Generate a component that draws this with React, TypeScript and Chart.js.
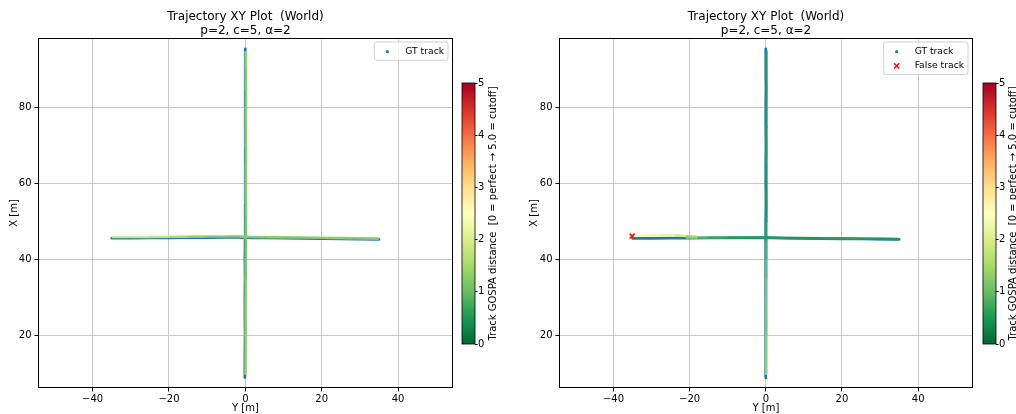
import React, { useEffect, useRef } from 'react';
import { Chart, registerables } from 'chart.js';

Chart.register(...registerables);

const FONT = '"DejaVu Sans", "Liberation Sans", sans-serif';

// ---------------- text ----------------
const TITLE_LINES = ['Trajectory XY Plot  (World)', 'p=2, c=5, \u03b1=2'];
const X_AXIS_LABEL = 'Y [m]';
const Y_AXIS_LABEL = 'X [m]';
const CB_LABEL = 'Track GOSPA distance  [0 = perfect \u2192 5.0 = cutoff]';
const LEGEND_LEFT = ['GT track'];
const LEGEND_RIGHT = ['GT track', 'False track'];

// ---------------- axes ----------------
const X_MIN = -54.3;
const X_MAX = 54.4;
const Y_MIN = 6.05;
const Y_MAX = 98.2;
const AXIS_STEP = 20;
const CB_MIN = 0;
const CB_MAX = 5;
const CB_STEP = 1;

// colormap RdYlGn_r
const CMAP = ['#006837', '#1a9850', '#66bd63', '#a6d96a', '#d9ef8b', '#ffffbf', '#fee08b', '#fdae61', '#f46d43', '#d73027', '#a50026'];
const GT_COLOR = '#1f77b4';
const FALSE_COLOR = '#ff0000';

// ---------------- left panel data (world Y = horizontal, world X = vertical) ----------------
const L_GT_H_WY = [-35, -30, -25, -20, -15, -10, -5, -2, 2, 5, 10, 15, 20, 25, 30, 35];
const L_GT_H_WX = [45.5, 45.52, 45.55, 45.58, 45.62, 45.66, 45.7, 45.72, 45.58, 45.55, 45.5, 45.44, 45.38, 45.32, 45.25, 45.18];
const L_EST_H_WY = [-35, -30, -25, -20, -15, -10, -5, -2, 2, 5, 10, 15, 20, 25, 30, 35];
const L_EST_H_WX = [45.8, 45.82, 45.85, 45.87, 45.9, 45.92, 45.95, 45.96, 45.82, 45.78, 45.72, 45.66, 45.6, 45.52, 45.45, 45.38];
const L_EST_H_VAL = [1.9, 2.0, 1.95, 1.8, 1.5, 1.35, 1.3, 1.3, 1.35, 1.4, 1.3, 1.35, 1.4, 1.3, 1.35, 1.3];

const L_GT_V_WX = [8.8, 15, 20, 25, 30, 35, 40, 45, 50, 55, 60, 65, 70, 75, 80, 85, 90, 95.3];
const L_GT_V_WY = [-0.1, -0.1, -0.05, -0.1, -0.1, -0.05, -0.1, -0.05, -0.05, 0, 0, -0.05, 0, 0, 0, 0.05, 0, 0];
const L_EST_V_WX = [9.5, 15, 20, 25, 30, 35, 40, 45, 50, 55, 60, 65, 70, 75, 80, 85, 90, 94.8];
const L_EST_V_WY = [0.1, 0.1, 0.1, 0.05, 0.1, 0.1, 0.05, 0.1, 0.1, 0.15, 0.1, 0.1, 0.15, 0.1, 0.1, 0.15, 0.1, 0.1];
const L_EST_V_VAL = [1.5, 1.45, 1.4, 1.35, 1.4, 1.3, 1.1, 1.2, 1.3, 1.35, 1.4, 1.35, 1.3, 1.4, 1.35, 1.3, 1.4, 1.45];

// ---------------- right panel data ----------------
const R_GT_H_WY = [-35, -30, -25, -20, -15, -10, -5, -2, 2, 5, 10, 15, 20, 25, 30, 35];
const R_GT_H_WX = [45.45, 45.47, 45.5, 45.52, 45.55, 45.58, 45.6, 45.62, 45.55, 45.5, 45.45, 45.4, 45.35, 45.3, 45.25, 45.2];
const R_EST_H_WY = [-21, -18, -15, -10, -5, -2, 2, 5, 10, 15, 20, 25, 30, 35];
const R_EST_H_WX = [45.62, 45.6, 45.6, 45.63, 45.65, 45.67, 45.6, 45.55, 45.5, 45.45, 45.4, 45.35, 45.3, 45.25];
const R_EST_H_VAL = [1.3, 1.0, 0.8, 0.6, 0.55, 0.55, 0.6, 0.55, 0.5, 0.55, 0.6, 0.55, 0.5, 0.55];

const R_FALSE_WY = [-35, -32, -28, -24, -21, -18];
const R_FALSE_WX = [46.05, 46.22, 46.3, 46.25, 46.05, 45.8];
const R_FALSE_VAL = [2.4, 2.35, 2.25, 2.1, 1.7, 1.2];
const R_FALSE_MARK_WY = [-35.1];
const R_FALSE_MARK_WX = [46.05];

const R_GT_V_WX = [8.8, 15, 20, 25, 30, 35, 40, 45, 50, 55, 60, 65, 70, 75, 80, 85, 90, 95.3];
const R_GT_V_WY = [-0.05, -0.05, 0, -0.05, 0, -0.05, 0, 0, 0, 0.05, 0, 0, 0.05, 0, 0, 0.05, 0, 0];
const R_EST_V_WX = [9.5, 15, 20, 25, 30, 35, 40, 45, 50, 55, 60, 65, 70, 75, 80, 85, 90, 94.8];
const R_EST_V_WY = [0.1, 0.1, 0.1, 0.15, 0.1, 0.1, 0.15, 0.15, 0.1, 0.15, 0.1, 0.15, 0.15, 0.1, 0.15, 0.1, 0.15, 0.1];
const R_EST_V_VAL = [1.5, 1.45, 1.4, 1.3, 1.25, 1.2, 1.1, 0.7, 0.55, 0.55, 0.5, 0.55, 0.6, 0.55, 0.5, 0.55, 0.5, 0.55];

// ---------------- helpers ----------------
function hexToRgb(h: string) {
  const n = parseInt(h.slice(1), 16);
  return [(n >> 16) & 255, (n >> 8) & 255, n & 255];
}
function cmap(v: number, alpha = 1): string {
  const t = Math.max(0, Math.min(1, (v - CB_MIN) / (CB_MAX - CB_MIN))) * (CMAP.length - 1);
  const i = Math.min(CMAP.length - 2, Math.floor(t));
  const f = t - i;
  const a = hexToRgb(CMAP[i]);
  const b = hexToRgb(CMAP[i + 1]);
  const c = a.map((av, k) => Math.round(av + (b[k] - av) * f));
  return `rgba(${c[0]},${c[1]},${c[2]},${alpha})`;
}
function pts(wy: number[], wx: number[]) {
  return wy.map((y, i) => ({ x: y, y: wx[i] }));
}
const fmtTick = (v: number | string) => {
  const n = Number(v);
  return n < 0 ? '\u2212' + Math.abs(n) : String(n);
};

function gtDataset(wy: number[], wx: number[]) {
  return {
    type: 'line',
    data: pts(wy, wx),
    borderColor: GT_COLOR,
    borderWidth: 2.8,
    pointRadius: 0,
    borderCapStyle: 'round',
    tension: 0,
    order: 5,
  };
}
function estDataset(wy: number[], wx: number[], vals: number[], order = 1) {
  return {
    type: 'line',
    data: pts(wy, wx),
    borderColor: cmap(vals[0], 0.9),
    borderWidth: 2.6,
    pointRadius: 0,
    borderCapStyle: 'butt',
    tension: 0,
    order,
    segment: {
      borderColor: (ctx: any) => cmap((vals[ctx.p0DataIndex] + vals[ctx.p1DataIndex]) / 2, 0.9),
    },
  };
}

type LegendKind = 'dot' | 'x';

function decorPlugin(labels: string[], kinds: LegendKind[], colors: string[]) {
  return {
    id: 'decor',
    afterDraw(chart: any) {
      const { ctx, chartArea: a } = chart;
      ctx.save();
      // frame
      ctx.strokeStyle = '#000';
      ctx.lineWidth = 1;
      ctx.strokeRect(Math.round(a.left) + 0.5, Math.round(a.top) + 0.5, Math.round(a.right - a.left) - 1, Math.round(a.bottom - a.top) - 1);
      // title
      ctx.fillStyle = '#000';
      ctx.font = `12px ${FONT}`;
      ctx.textAlign = 'center';
      ctx.textBaseline = 'middle';
      const cx = (a.left + a.right) / 2;
      ctx.fillText(TITLE_LINES[0], cx, 17);
      ctx.fillText(TITLE_LINES[1], cx, 30.5);
      // legend
      ctx.font = `9.2px ${FONT}`;
      let maxW = 0;
      labels.forEach((l) => (maxW = Math.max(maxW, ctx.measureText(l).width)));
      const rowH = 14.3;
      const w = 31 + maxW + 4;
      const h = 4 + rowH * labels.length;
      const x0 = a.right - 5 - w;
      const y0 = a.top + 4;
      ctx.beginPath();
      const r = 2.5;
      ctx.moveTo(x0 + r, y0);
      ctx.arcTo(x0 + w, y0, x0 + w, y0 + h, r);
      ctx.arcTo(x0 + w, y0 + h, x0, y0 + h, r);
      ctx.arcTo(x0, y0 + h, x0, y0, r);
      ctx.arcTo(x0, y0, x0 + w, y0, r);
      ctx.closePath();
      ctx.fillStyle = 'rgba(255,255,255,0.8)';
      ctx.fill();
      ctx.strokeStyle = '#d0d0d0';
      ctx.lineWidth = 1;
      ctx.stroke();
      labels.forEach((l, i) => {
        const cy = y0 + 2 + rowH * i + rowH / 2 + 0.5;
        const mx = x0 + 13;
        if (kinds[i] === 'dot') {
          ctx.fillStyle = colors[i];
          ctx.beginPath();
          ctx.arc(mx, cy, 1.6, 0, Math.PI * 2);
          ctx.fill();
        } else {
          ctx.strokeStyle = colors[i];
          ctx.lineWidth = 1.4;
          ctx.beginPath();
          ctx.moveTo(mx - 2.6, cy - 2.6);
          ctx.lineTo(mx + 2.6, cy + 2.6);
          ctx.moveTo(mx + 2.6, cy - 2.6);
          ctx.lineTo(mx - 2.6, cy + 2.6);
          ctx.stroke();
        }
        ctx.fillStyle = '#000';
        ctx.textAlign = 'left';
        ctx.textBaseline = 'middle';
        ctx.fillText(l, x0 + 31, cy);
      });
      ctx.restore();
    },
  };
}

const colorbarPlugin = {
  id: 'colorbar',
  beforeDatasetsDraw(chart: any) {
    const { ctx, chartArea: a } = chart;
    ctx.save();
    const g = ctx.createLinearGradient(0, a.bottom, 0, a.top);
    CMAP.forEach((c, i) => g.addColorStop(i / (CMAP.length - 1), c));
    ctx.fillStyle = g;
    ctx.fillRect(a.left, a.top, a.right - a.left, a.bottom - a.top);
    ctx.strokeStyle = '#000';
    ctx.lineWidth = 0.8;
    ctx.strokeRect(a.left, a.top, a.right - a.left, a.bottom - a.top);
    ctx.restore();
  },
  afterDraw(chart: any) {
    const { ctx, chartArea: a } = chart;
    const labelX = chart.options.plugins.colorbar?.labelX ?? 0;
    ctx.save();
    ctx.translate(labelX, (a.top + a.bottom) / 2);
    ctx.rotate(-Math.PI / 2);
    ctx.font = `10px ${FONT}`;
    ctx.fillStyle = '#000';
    ctx.textAlign = 'center';
    ctx.textBaseline = 'middle';
    ctx.fillText(CB_LABEL, 0, 0);
    ctx.restore();
  },
};

function mainOptions(yAxisWidth: number) {
  const gridCommon = {
    color: '#c8c8c8',
    lineWidth: 1,
    tickColor: '#000',
    tickLength: 3.5,
    tickWidth: 1,
    drawTicks: true,
  };
  return {
    responsive: false,
    animation: false,
    events: [],
    layout: { padding: { top: 38, right: 7, left: 0, bottom: 0 } },
    plugins: { legend: { display: false }, tooltip: { enabled: false }, title: { display: false } },
    scales: {
      x: {
        type: 'linear',
        min: X_MIN,
        max: X_MAX,
        grid: gridCommon,
        border: { display: false },
        ticks: { stepSize: AXIS_STEP, includeBounds: false, color: '#000', font: { size: 10, family: FONT }, padding: 1.5, maxRotation: 0, callback: fmtTick },
        title: { display: true, text: X_AXIS_LABEL, color: '#000', font: { size: 10, family: FONT }, padding: { top: 0, bottom: 0 } },
        afterFit: (s: any) => {
          s.height = 26;
        },
      },
      y: {
        type: 'linear',
        min: Y_MIN,
        max: Y_MAX,
        grid: gridCommon,
        border: { display: false },
        ticks: { stepSize: AXIS_STEP, includeBounds: false, color: '#000', font: { size: 10, family: FONT }, padding: 3, callback: fmtTick },
        title: { display: true, text: Y_AXIS_LABEL, color: '#000', font: { size: 10, family: FONT }, padding: { top: 8, bottom: 0 } },
        afterFit: (s: any) => {
          s.width = yAxisWidth;
        },
      },
    },
  };
}

function colorbarOptions(yAxisWidth: number, labelX: number) {
  return {
    responsive: false,
    animation: false,
    events: [],
    layout: { padding: { top: 83, bottom: 70, left: 7, right: 0 } },
    plugins: { legend: { display: false }, tooltip: { enabled: false }, colorbar: { labelX } },
    scales: {
      x: { type: 'linear', display: false, min: 0, max: 1 },
      y: {
        type: 'linear',
        position: 'right',
        min: CB_MIN,
        max: CB_MAX,
        grid: { drawOnChartArea: false, drawTicks: true, tickLength: 2.5, tickColor: '#000', tickWidth: 1 },
        border: { display: false },
        ticks: { stepSize: CB_STEP, color: '#000', font: { size: 10, family: FONT }, padding: 0.5 },
        afterFit: (s: any) => {
          s.width = yAxisWidth;
        },
      },
    },
  };
}

function useChart(ref: React.RefObject<HTMLCanvasElement>, make: () => any) {
  useEffect(() => {
    if (!ref.current) return;
    const chart = new Chart(ref.current, make());
    return () => chart.destroy();
  }, []);
}

export default function App() {
  const leftMain = useRef<HTMLCanvasElement>(null);
  const leftCb = useRef<HTMLCanvasElement>(null);
  const rightMain = useRef<HTMLCanvasElement>(null);
  const rightCb = useRef<HTMLCanvasElement>(null);

  useChart(leftMain, () => ({
    type: 'line',
    data: {
      datasets: [
        estDataset(L_EST_H_WY, L_EST_H_WX, L_EST_H_VAL),
        estDataset(L_EST_V_WY, L_EST_V_WX, L_EST_V_VAL),
        gtDataset(L_GT_H_WY, L_GT_H_WX),
        gtDataset(L_GT_V_WY, L_GT_V_WX),
      ],
    },
    options: mainOptions(38),
    plugins: [decorPlugin(LEGEND_LEFT, ['dot'], [GT_COLOR])],
  }));

  useChart(rightMain, () => ({
    type: 'line',
    data: {
      datasets: [
        {
          type: 'line',
          data: pts(R_FALSE_MARK_WY, R_FALSE_MARK_WX),
          showLine: false,
          pointStyle: 'crossRot',
          pointRadius: 3.5,
          pointBorderColor: FALSE_COLOR,
          pointBorderWidth: 1.5,
          order: -1,
        },
        estDataset(R_FALSE_WY, R_FALSE_WX, R_FALSE_VAL, 0),
        estDataset(R_EST_H_WY, R_EST_H_WX, R_EST_H_VAL),
        estDataset(R_EST_V_WY, R_EST_V_WX, R_EST_V_VAL),
        gtDataset(R_GT_H_WY, R_GT_H_WX),
        gtDataset(R_GT_V_WY, R_GT_V_WX),
      ],
    },
    options: mainOptions(39),
    plugins: [decorPlugin(LEGEND_RIGHT, ['dot', 'x'], [GT_COLOR, FALSE_COLOR])],
  }));

  useChart(leftCb, () => ({
    type: 'line',
    data: { datasets: [] },
    options: colorbarOptions(45, 38.5),
    plugins: [colorbarPlugin],
  }));

  useChart(rightCb, () => ({
    type: 'line',
    data: { datasets: [] },
    options: colorbarOptions(20, 37.5),
    plugins: [colorbarPlugin],
  }));

  const abs = (left: number, width: number): React.CSSProperties => ({
    position: 'absolute',
    left,
    top: 0,
    width,
    height: 414,
  });

  return (
    <div style={{ position: 'fixed', left: 0, top: 0, width: 1016, height: 414, background: '#fff', overflow: 'hidden' }}>
      <canvas ref={leftMain} width={460} height={414} style={abs(0, 460)} />
      <canvas ref={leftCb} width={65} height={414} style={abs(455, 65)} />
      <canvas ref={rightMain} width={460} height={414} style={abs(520, 460)} />
      <canvas ref={rightCb} width={40} height={414} style={abs(976, 40)} />
    </div>
  );
}
